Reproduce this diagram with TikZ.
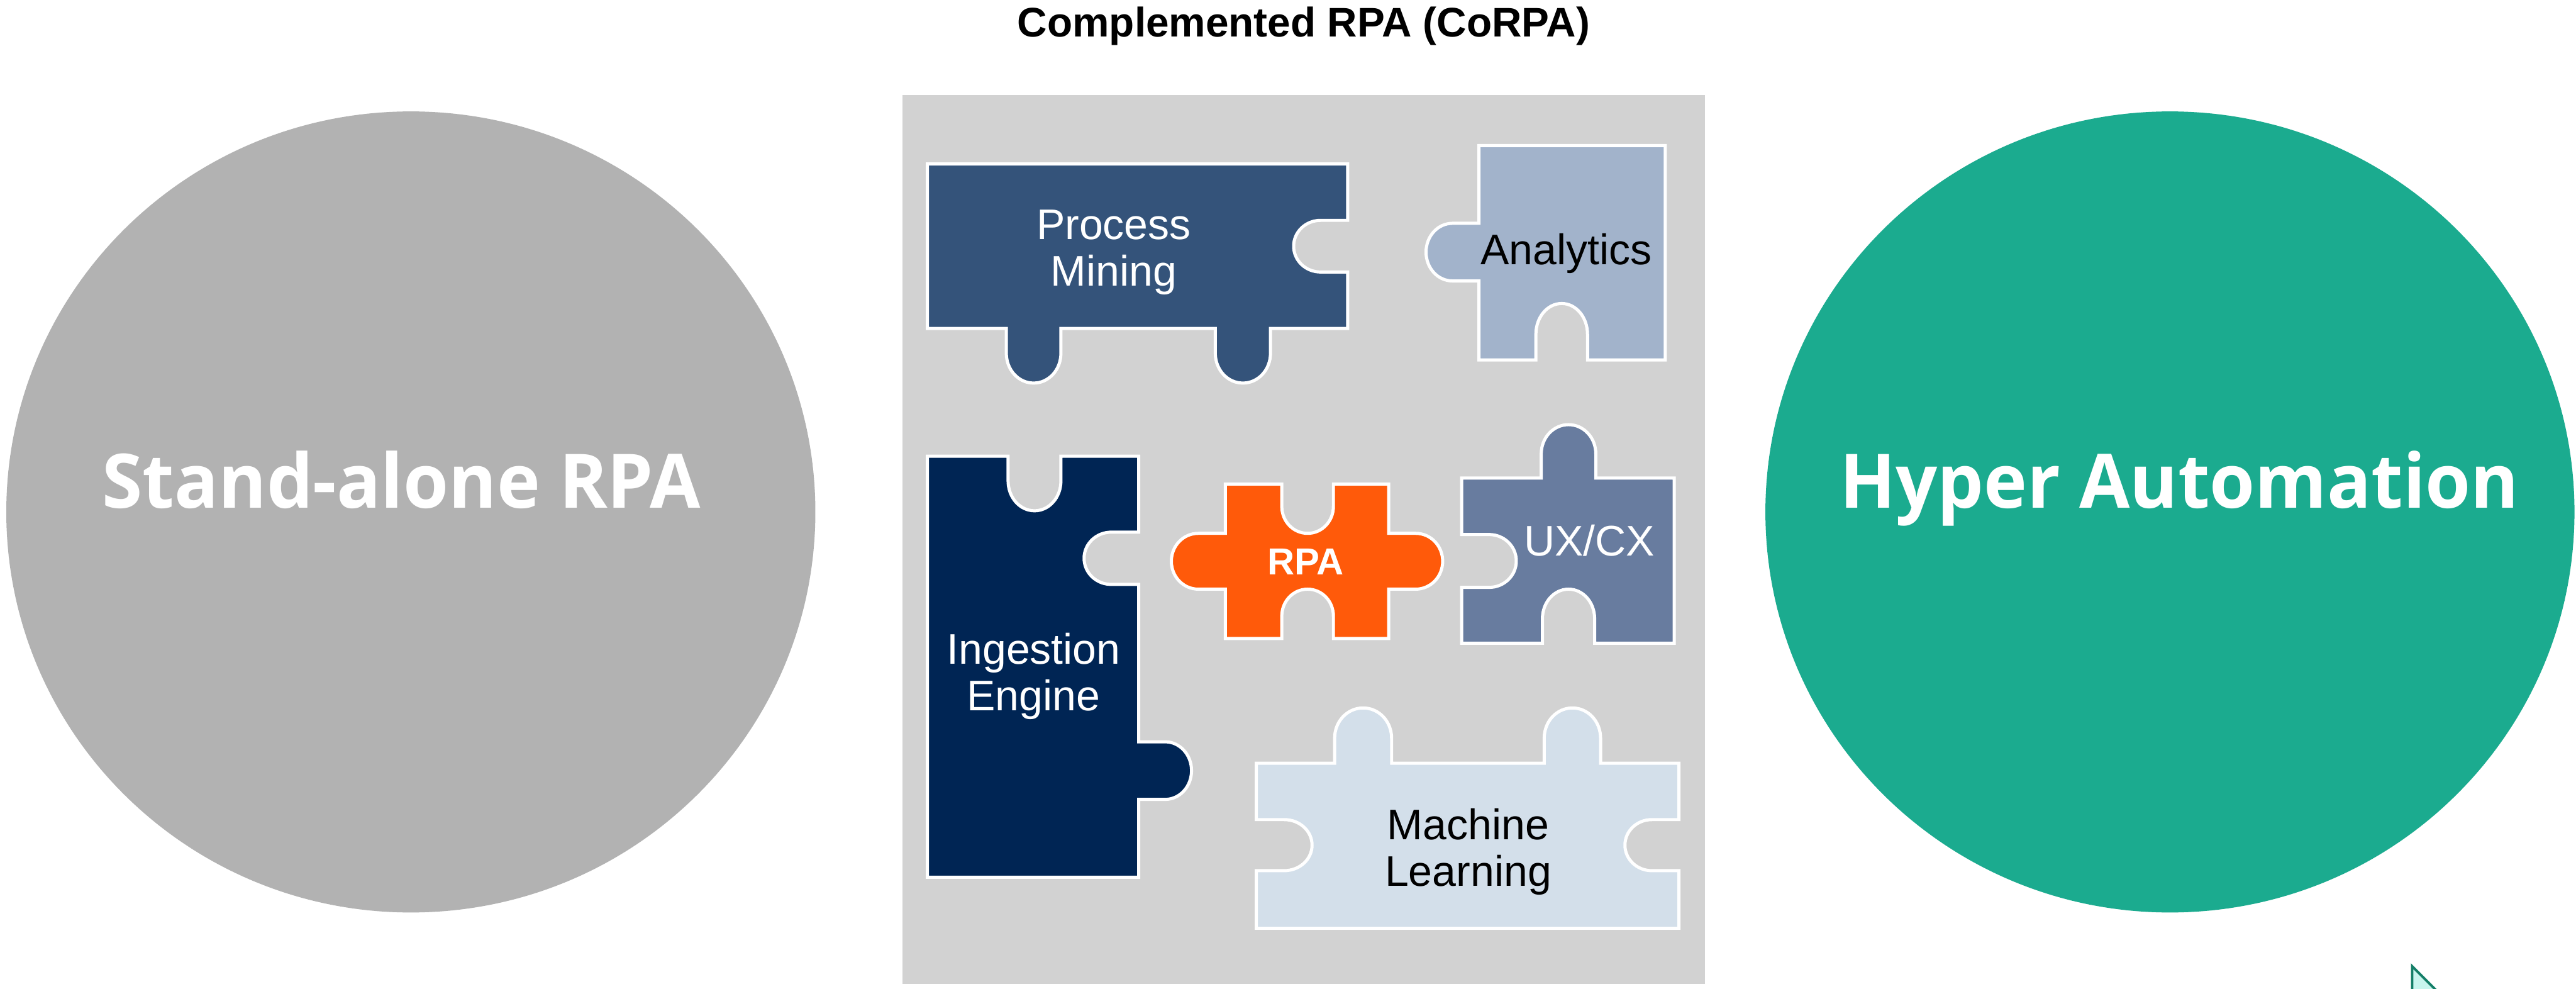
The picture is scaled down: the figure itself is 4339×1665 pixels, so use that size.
\documentclass[tikz,border=0pt]{standalone}
\usepackage{fontspec}
\setmainfont{Liberation Sans}
\newfontfamily\bigfont{Open Sans}
\definecolor{pmc}{HTML}{34537A}
\definecolor{anc}{HTML}{A2B3CB}
\definecolor{inc}{HTML}{002554}
\definecolor{rpc}{HTML}{FF5A0A}
\definecolor{uxc}{HTML}{687C9F}
\definecolor{mlc}{HTML}{D3DFEA}
\definecolor{panelc}{HTML}{D2D2D2}
\definecolor{greyc}{HTML}{B2B2B2}
\definecolor{greenc}{HTML}{1BAB8F}
\definecolor{curf}{HTML}{C8F5EE}
\definecolor{curd}{HTML}{147F68}
% vertical-pointing tab/notch: x1,x2,base y,tip y
\def\vtab#1#2#3#4{-- (#1,#3) -- (#1,{#3+0.45*(#4-#3)}) .. controls (#1,{#3+0.76*(#4-#3)}) and ({#1+0.225*(#2-#1)},#4) .. ({0.5*(#1+#2)},#4) .. controls ({#1+0.775*(#2-#1)},#4) and (#2,{#3+0.76*(#4-#3)}) .. (#2,{#3+0.45*(#4-#3)}) -- (#2,#3)}
% horizontal-pointing tab/notch: y1,y2,base x,tip x
\def\htab#1#2#3#4{-- (#3,#1) -- ({#3+0.5*(#4-#3)},#1) .. controls ({#3+0.78*(#4-#3)},#1) and (#4,{#1+0.225*(#2-#1)}) .. (#4,{0.5*(#1+#2)}) .. controls (#4,{#1+0.775*(#2-#1)}) and ({#3+0.78*(#4-#3)},#2) .. ({#3+0.5*(#4-#3)},#2) -- (#3,#2)}
\tikzset{
  x=0.01cm,y=-0.01cm,
  piece/.style={draw=white,line width=1.5pt,line join=miter},
  bigtext/.style={text=white,font=\bigfont\bfseries\fontsize{36}{42}\selectfont,inner sep=0pt,anchor=base},
  lab/.style={align=center,inner sep=0pt,font=\fontsize{20.5}{22.2}\selectfont},
}
\begin{document}
\begin{tikzpicture}
\useasboundingbox (0,0) rectangle (4339,1665);
\fill[white] (0,0) rectangle (4339,1665);
% circles
\fill[greyc] (692,862) ellipse[x radius=6.81cm,y radius=6.74cm];
\fill[greenc] (3655,862) ellipse[x radius=6.81cm,y radius=6.74cm];
\node[bigtext,xscale=0.975] (sa) at (676,855) {Stand-alone RPA};
\node[bigtext,xscale=0.975] (ha) at (3671,855) {Hyper Automation};
% title
\node[inner sep=0pt,font=\bfseries\fontsize{19.8}{22}\selectfont] (title) at (2196,44) {Complemented RPA (CoRPA)};
% panel
\fill[panelc] (1520,160) rectangle (2872,1657);
% Process Mining
\path[piece,fill=pmc] (1562,276) -- (2270,276) \htab{371}{458}{2270}{2179} -- (2270,553) \vtab{2140}{2047}{553}{645} \vtab{1787}{1695}{553}{645} -- (1562,553) -- cycle;
\node[lab,text=white] (pm) at (1876,425) {Process\\Mining};
% Analytics
\path[piece,fill=anc] (2491,245) -- (2805,245) -- (2805,606) \vtab{2674}{2587}{606}{511} -- (2491,606) \htab{473}{376}{2491}{2402} -- cycle;
\node[lab] (an) at (2638,427) {Analytics};
% Ingestion Engine
\path[piece,fill=inc] (1562,768) \vtab{1698}{1787}{768}{860} -- (1918,768) \htab{896}{984}{1918}{1826} \htab{1249}{1346}{1918}{2007} -- (1918,1477) -- (1562,1477) -- cycle;
\node[lab,text=white] (ie) at (1741,1139) {Ingestion\\Engine};
% RPA
\path[piece,fill=rpc] (2064,815) \vtab{2159}{2246}{815}{898} -- (2339,815) \htab{898}{992}{2339}{2430} -- (2339,1075) \vtab{2246}{2159}{1075}{992} -- (2064,1075) \htab{992}{898}{2064}{1973} -- cycle;
\node[lab,text=white,font=\bfseries\fontsize{18}{22}\selectfont] (rp) at (2199,946) {RPA};
% UX/CX
\path[piece,fill=uxc] (2462,805) \vtab{2596}{2688}{805}{715} -- (2820,805) -- (2820,1083) \vtab{2686}{2598}{1083}{992} -- (2462,1083) \htab{989}{900}{2462}{2554} -- cycle;
\node[lab,text=white] (ux) at (2677,910) {UX/CX};
% Machine Learning
\path[piece,fill=mlc] (2116,1285) \vtab{2248}{2344}{1285}{1192} \vtab{2601}{2696}{1285}{1192} -- (2828,1285) \htab{1380}{1466}{2828}{2737} -- (2828,1563) -- (2116,1563) \htab{1466}{1380}{2116}{2210} -- cycle;
\node[lab] (ml) at (2473,1434) {Machine\\Learning};
% cursor
\begin{scope}
\clip (0,0) rectangle (4339,1665);
\draw[fill=curf,draw=curd,line width=1.2pt,miter limit=10] (4063,1627) -- (4063,1720) -- (4130,1694) -- cycle;
\end{scope}
\end{tikzpicture}
\end{document}
